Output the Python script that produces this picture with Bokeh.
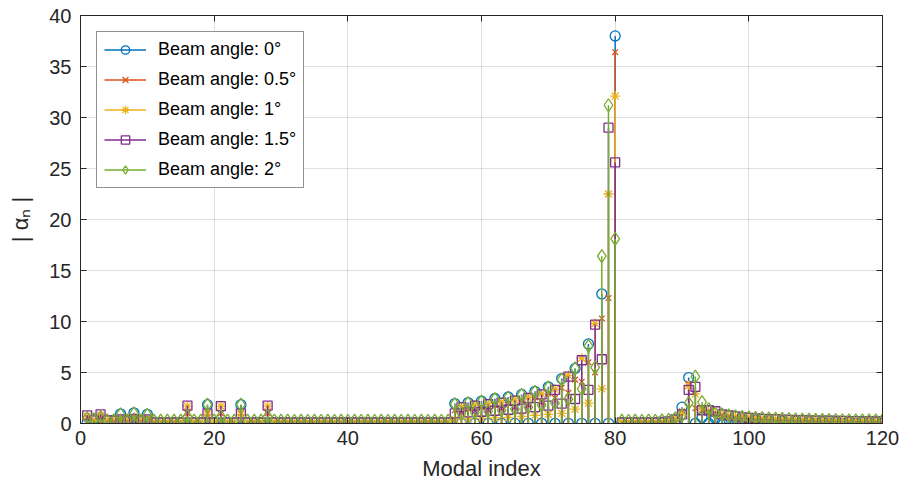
from bokeh.plotting import figure
from bokeh.models import ColumnDataSource, Legend, LegendItem, LinearAxis, FixedTicker
from bokeh.embed import file_html
from bokeh.resources import INLINE

modal_index = list(range(1, 121))

alpha_0deg = [
    0.05, 0.4, 0.05, 0.3, 0.2, 0.95, 0.15, 1.05, 0.15, 0.9,
    0.1, 0.05, 0.05, 0.05, 0.05, 0.05, 0.05, 0.05, 1.85, 0.05,
    0.05, 0.05, 0.05, 1.85, 0.05, 0.05, 0.05, 0.05, 0.05, 0.05,
    0.05, 0.05, 0.05, 0.05, 0.05, 0.05, 0.05, 0.05, 0.05, 0.05,
    0.05, 0.05, 0.05, 0.05, 0.05, 0.05, 0.05, 0.05, 0.05, 0.05,
    0.05, 0.05, 0.05, 0.05, 0.05, 1.95, 0.02, 2.05, 0.02, 2.2,
    0.02, 2.45, 0.02, 2.6, 0.02, 2.85, 0.02, 3.15, 0.02, 3.6,
    0.02, 4.4, 0.02, 5.4, 0.02, 7.8, 0.02, 12.7, 0.02, 38.0,
    0.05, 0.05, 0.05, 0.05, 0.05, 0.05, 0.05, 0.05, 0.3, 1.6,
    4.5, 0.02, 0.6, 0.02, 0.5, 0.02, 0.4, 0.02, 0.35, 0.02,
    0.3, 0.02, 0.25, 0.02, 0.2, 0.02, 0.2, 0.02, 0.15, 0.02,
    0.15, 0.02, 0.1, 0.02, 0.1, 0.02, 0.1, 0.02, 0.1, 0.02,
]

alpha_05deg = [
    0.6, 0.3, 0.7, 0.3, 0.3, 0.5, 0.3, 0.6, 0.3, 0.5,
    0.2, 0.15, 0.15, 0.15, 0.15, 1.0, 0.15, 0.15, 1.0, 0.15,
    1.0, 0.15, 0.15, 1.0, 0.15, 0.15, 0.15, 1.0, 0.15, 0.15,
    0.12, 0.1, 0.12, 0.1, 0.12, 0.1, 0.12, 0.1, 0.12, 0.1,
    0.12, 0.1, 0.12, 0.1, 0.12, 0.1, 0.12, 0.1, 0.12, 0.1,
    0.12, 0.1, 0.12, 0.1, 0.15, 1.3, 1.1, 1.45, 1.2, 1.6,
    1.3, 1.8, 1.45, 2.0, 1.6, 2.25, 1.8, 2.55, 2.1, 2.95,
    2.5, 3.5, 3.0, 4.3, 4.1, 6.0, 5.0, 10.3, 12.3, 36.4,
    0.12, 0.1, 0.12, 0.1, 0.12, 0.1, 0.15, 0.2, 0.4, 1.2,
    3.9, 1.5, 1.3, 1.1, 0.9, 0.8, 0.7, 0.65, 0.6, 0.55,
    0.5, 0.45, 0.42, 0.4, 0.38, 0.35, 0.33, 0.3, 0.3, 0.28,
    0.27, 0.26, 0.25, 0.24, 0.23, 0.22, 0.22, 0.21, 0.2, 0.2,
]

alpha_1deg = [
    0.7, 0.3, 0.8, 0.3, 0.3, 0.4, 0.3, 0.5, 0.3, 0.4,
    0.18, 0.15, 0.15, 0.15, 0.15, 1.7, 0.15, 0.15, 0.9, 0.15,
    1.7, 0.15, 0.15, 0.9, 0.15, 0.15, 0.15, 1.7, 0.15, 0.15,
    0.15, 0.14, 0.15, 0.14, 0.15, 0.14, 0.15, 0.14, 0.15, 0.14,
    0.15, 0.14, 0.15, 0.14, 0.15, 0.14, 0.15, 0.14, 0.15, 0.14,
    0.15, 0.14, 0.15, 0.14, 0.15, 0.4, 1.65, 0.45, 1.8, 0.5,
    1.95, 0.55, 2.1, 0.6, 2.3, 0.7, 2.55, 0.8, 2.9, 0.9,
    3.35, 1.0, 4.7, 1.4, 6.4, 2.0, 9.8, 3.4, 22.5, 32.1,
    0.15, 0.14, 0.15, 0.14, 0.15, 0.14, 0.18, 0.25, 0.5, 1.0,
    3.7, 2.9, 1.4, 1.2, 1.0, 0.85, 0.75, 0.65, 0.6, 0.55,
    0.5, 0.47, 0.44, 0.41, 0.39, 0.37, 0.35, 0.33, 0.31, 0.3,
    0.29, 0.28, 0.27, 0.26, 0.25, 0.24, 0.24, 0.23, 0.22, 0.22,
]

alpha_15deg = [
    0.8, 0.3, 0.9, 0.3, 0.3, 0.4, 0.3, 0.45, 0.3, 0.4,
    0.12, 0.12, 0.12, 0.12, 0.12, 1.75, 0.12, 0.12, 1.0, 0.12,
    1.7, 0.12, 0.12, 1.0, 0.12, 0.12, 0.12, 1.75, 0.12, 0.12,
    0.12, 0.11, 0.12, 0.11, 0.12, 0.11, 0.12, 0.11, 0.12, 0.11,
    0.12, 0.11, 0.12, 0.11, 0.12, 0.11, 0.12, 0.11, 0.12, 0.11,
    0.12, 0.11, 0.12, 0.11, 0.12, 1.0, 1.6, 1.1, 1.75, 1.15,
    1.9, 1.25, 2.05, 1.35, 2.25, 1.45, 2.5, 1.6, 2.85, 1.75,
    3.3, 1.95, 4.6, 2.4, 6.2, 3.3, 9.7, 6.3, 29.0, 25.6,
    0.12, 0.11, 0.12, 0.11, 0.12, 0.11, 0.15, 0.2, 0.4, 0.9,
    3.3, 3.6, 1.3, 1.3, 1.2, 0.9, 0.8, 0.7, 0.6, 0.55,
    0.5, 0.46, 0.43, 0.4, 0.38, 0.36, 0.34, 0.32, 0.3, 0.29,
    0.28, 0.27, 0.26, 0.25, 0.24, 0.23, 0.23, 0.22, 0.21, 0.21,
]

alpha_2deg = [
    0.5, 0.4, 0.6, 0.3, 0.3, 0.9, 0.3, 1.0, 0.3, 0.85,
    0.28, 0.28, 0.28, 0.28, 0.28, 0.7, 0.28, 0.28, 1.85, 0.28,
    0.7, 0.28, 0.28, 1.85, 0.28, 0.28, 0.28, 0.7, 0.28, 0.28,
    0.28, 0.27, 0.28, 0.27, 0.28, 0.27, 0.28, 0.27, 0.28, 0.27,
    0.28, 0.27, 0.28, 0.27, 0.28, 0.27, 0.28, 0.27, 0.28, 0.27,
    0.28, 0.27, 0.28, 0.27, 0.28, 1.9, 1.0, 2.0, 1.1, 2.15,
    1.2, 2.4, 1.3, 2.55, 1.4, 2.8, 1.6, 3.1, 1.8, 3.55,
    2.0, 4.3, 2.4, 5.4, 3.4, 7.6, 5.5, 16.4, 31.2, 18.1,
    0.28, 0.27, 0.28, 0.27, 0.28, 0.27, 0.3, 0.35, 0.5, 0.8,
    2.0, 4.6, 2.1, 1.4, 1.0, 0.9, 0.8, 0.7, 0.65, 0.6,
    0.55, 0.52, 0.5, 0.47, 0.45, 0.43, 0.41, 0.39, 0.37, 0.36,
    0.35, 0.34, 0.33, 0.32, 0.31, 0.31, 0.3, 0.3, 0.3, 0.3,
]

series_labels = ["Beam angle: 0°", "Beam angle: 0.5°", "Beam angle: 1°",
                 "Beam angle: 1.5°", "Beam angle: 2°"]

FONT = "Liberation Sans"
TXT = "#262626"

p = figure(width=901, height=489, output_backend="svg", toolbar_location=None,
           x_range=(0, 120), y_range=(0, 40),
           min_border_left=80, min_border_right=19, min_border_top=15, min_border_bottom=66)
p.background_fill_color = "white"
p.border_fill_color = "white"
p.outline_line_color = TXT
p.outline_line_width = 1

series = [alpha_0deg, alpha_05deg, alpha_1deg, alpha_15deg, alpha_2deg]
colors = ["#0072BD", "#D95319", "#EDB120", "#7E2F8E", "#77AC30"]
markers = ["circle", "x", "asterisk", "square", "diamond"]
sizes = [10, 8, 10, 9, 13]

items = []
for vals, col, mk, sz, lab in zip(series, colors, markers, sizes, series_labels):
    src = ColumnDataSource(dict(x=modal_index, y=vals, y0=[0] * len(vals)))
    seg = p.segment(x0="x", y0="y0", x1="x", y1="y", source=src,
                    line_color=col, line_width=1.5)
    sc = p.scatter(x="x", y="y", source=src, marker=mk, size=sz,
                   line_color=col, fill_color=None, line_width=1.3)
    items.append(LegendItem(label=lab, renderers=[seg, sc]))

xt = [0, 20, 40, 60, 80, 100, 120]
yt = [0, 5, 10, 15, 20, 25, 30, 35, 40]
p.xaxis.ticker = FixedTicker(ticks=xt)
p.yaxis.ticker = FixedTicker(ticks=yt)
p.xgrid.ticker = FixedTicker(ticks=xt)
p.ygrid.ticker = FixedTicker(ticks=yt)
p.grid.grid_line_color = TXT
p.grid.grid_line_alpha = 0.15

for ax in (p.xaxis[0], p.yaxis[0]):
    ax.major_tick_in = 6
    ax.major_tick_out = 0
    ax.minor_tick_line_color = None
    ax.axis_line_color = TXT
    ax.major_tick_line_color = TXT
    ax.major_label_text_font = FONT
    ax.major_label_text_font_size = "20px"
    ax.major_label_text_color = TXT
    ax.axis_label_text_font = FONT
    ax.axis_label_text_font_size = "22px"
    ax.axis_label_text_font_style = "normal"
    ax.axis_label_text_color = TXT

p.xaxis.axis_label = "Modal index"
p.xaxis.major_label_standoff = 7
p.xaxis.axis_label_standoff = 8
p.yaxis.axis_label = "| αₙ |"
p.yaxis.major_label_standoff = 9
p.yaxis.axis_label_standoff = 13

# tick marks on the right and top edges of the box (no labels)
for loc, tk in (("right", yt), ("above", xt)):
    ax = LinearAxis(ticker=FixedTicker(ticks=tk))
    ax.major_tick_in = 6
    ax.major_tick_out = 0
    ax.minor_tick_line_color = None
    ax.major_label_text_font_size = "0px"
    ax.major_label_text_color = None
    ax.major_label_text_alpha = 0
    ax.major_label_standoff = 0
    ax.axis_line_color = TXT
    ax.major_tick_line_color = TXT
    p.add_layout(ax, loc)

legend = Legend(items=items, location="top_left", margin=16, padding=7, spacing=9,
                glyph_width=42, glyph_height=21, label_standoff=12,
                label_text_font=FONT, label_text_font_size="18px", label_text_color="black",
                border_line_color=TXT, border_line_width=1, background_fill_alpha=1.0)
p.add_layout(legend)

open("out.html", "w").write(file_html(p, INLINE))
